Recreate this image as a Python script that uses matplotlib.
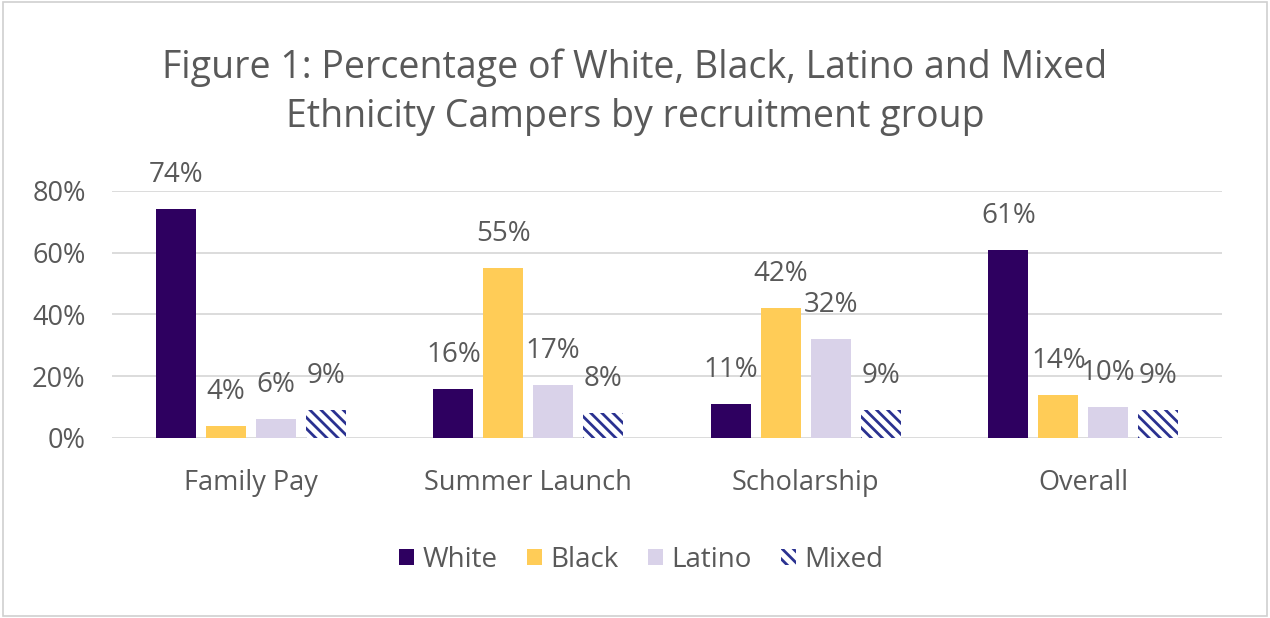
import matplotlib
matplotlib.use("Agg")
import matplotlib.pyplot as plt
import numpy as np
from matplotlib.patches import Rectangle

categories = ["Family Pay", "Summer Launch", "Scholarship", "Overall"]
series = ["White", "Black", "Latino", "Mixed"]
white = [74, 16, 11, 61]
black = [4, 55, 42, 14]
latino = [6, 17, 32, 10]
mixed = [9, 8, 9, 9]
yticks = [0, 20, 40, 60, 80]

plt.rcParams['font.family'] = ['Open Sans', 'DejaVu Sans']
plt.rcParams['hatch.linewidth'] = 2.0
txt = '#595959'

fig = plt.figure(figsize=(12.7, 6.18), dpi=100)
fig.patch.set_facecolor('white')
fig.add_artist(Rectangle((0.002, 0.003), 0.996, 0.994, transform=fig.transFigure,
                         fill=False, edgecolor='#d0d0d0', linewidth=1.2))

ax = fig.add_axes([0.0882, 0.2913, 0.8740, 0.3997])
x = np.arange(len(categories))
w = 0.144
step = 0.18
data = [white, black, latino, mixed]
colors = ['#2e0060', '#ffcc57', '#d9d2e9', 'white']
offsets = [-1.5, -0.5, 0.5, 1.5]
for i, (vals, c) in enumerate(zip(data, colors)):
    pos = x + offsets[i] * step
    if series[i] == 'Mixed':
        ax.bar(pos, vals, w, color='white', edgecolor='#2a3190', hatch='\\\\\\',
               linewidth=0, label=series[i], zorder=3)
    else:
        ax.bar(pos, vals, w, color=c, label=series[i], zorder=3)
    for p, v in zip(pos, vals):
        ax.text(p, v + 6.5, f"{v}%", ha='center', va='bottom', fontsize=20, color=txt)

ax.set_xlim(-0.5, 3.5)
ax.set_ylim(0, 80)
ax.set_yticks(yticks)
ax.set_yticklabels([f"{t}%" for t in yticks], fontsize=19.5, color=txt)
ax.set_xticks(x)
ax.set_xticklabels(categories, fontsize=19.5, color=txt)
ax.tick_params(length=0)
ax.tick_params(axis='x', pad=22)
ax.tick_params(axis='y', pad=19)
ax.yaxis.grid(True, color='#d9d9d9', linewidth=1.3, zorder=0)
for s in ax.spines.values():
    s.set_visible(False)

fig.text(0.5, 0.851, "Figure 1: Percentage of White, Black, Latino and Mixed\nEthnicity Campers by recruitment group",
         ha='center', va='center', fontsize=27, color=txt, linespacing=1.38)

leg = fig.legend(loc='center', bbox_to_anchor=(0.505, 0.094), ncol=4, frameon=False,
                 fontsize=20, handlelength=0.55, handleheight=0.55, columnspacing=1.05,
                 handletextpad=0.3, labelcolor=txt)

fig.savefig("out.png", dpi=100)
